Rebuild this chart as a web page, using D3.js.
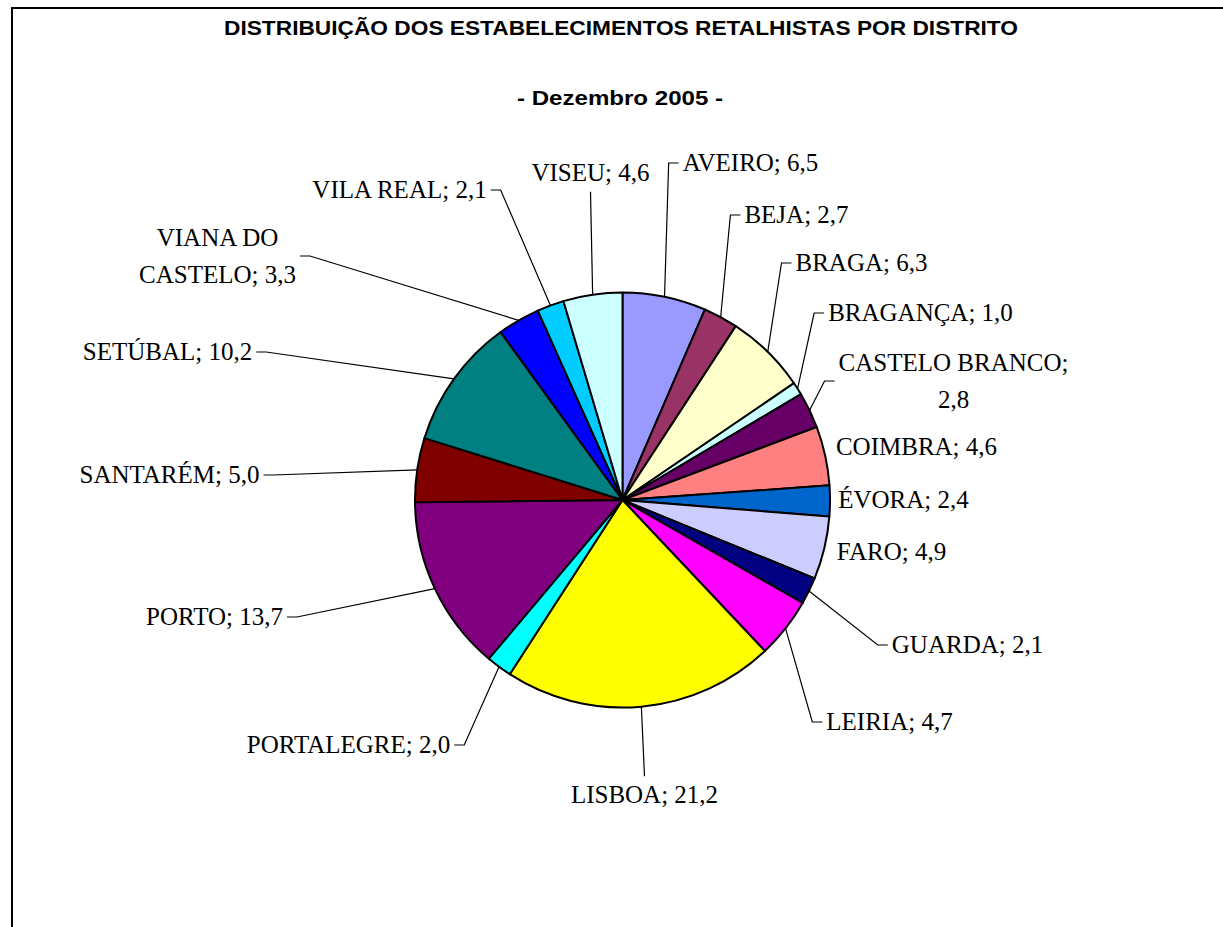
<!DOCTYPE html>
<html>
<head>
<meta charset="utf-8">
<script src="https://cdn.jsdelivr.net/npm/d3@7"></script>
<style>
  html, body { margin: 0; padding: 0; background: #fff; }
  svg { display: block; }
  .title { font-family: "Liberation Sans", Arial, sans-serif; font-weight: bold; }
  .lbl { font-family: "Liberation Serif", "Times New Roman", serif; font-size: 25px; fill: #000; }
</style>
</head>
<body>
<svg width="1223" height="927"></svg>
<script>
// data (percent of shops per district, Dec 2005)
var districts = ["AVEIRO", "BEJA", "BRAGA", "BRAGANÇA", "CASTELO BRANCO", "COIMBRA", "ÉVORA", "FARO", "GUARDA",
  "LEIRIA", "LISBOA", "PORTALEGRE", "PORTO", "SANTARÉM", "SETÚBAL", "VIANA DO CASTELO", "VILA REAL", "VISEU"];
var shares = [6.5, 2.7, 6.3, 1.0, 2.8, 4.6, 2.4, 4.9, 2.1, 4.7, 21.2, 2.0, 13.7, 5.0, 10.2, 3.3, 2.1, 4.6];
var sliceColors = ["#9999FF", "#993366", "#FFFFCC", "#CCFFFF", "#660066", "#FF8080", "#0066CC", "#CCCCFF", "#000080",
  "#FF00FF", "#FFFF00", "#00FFFF", "#800080", "#800000", "#008080", "#0000FF", "#00CCFF", "#CCFFFF"];

var titleText = "DISTRIBUIÇÃO DOS ESTABELECIMENTOS RETALHISTAS POR DISTRITO";
var subtitleText = "- Dezembro 2005 -";

// label placement (labels were dragged by hand in the original), offsets from pie centre
var labelOffsets = [[128, -337], [174, -285], [239, -237], [298, -187], [331, -119], [294, -53], [281, 0], [269, 52],
  [345, 145], [267, 222], [22, 295], [-274, 245], [-408, 117], [-453, -25], [-455, -148], [-405, -244], [-223, -310], [-32, -327]];
// words on first line for wrapped labels
var labelWrap = [0, 0, 0, 0, 2, 0, 0, 0, 0, 0, 0, 0, 0, 0, 0, 2, 0, 0];

var svg = d3.select("svg"),
  cx = 622.5, cy = 500, radius = 207.5,
  lineH = 37.5;

// chart frame (runs off the right and bottom)
svg.append("path")
  .attr("d", "M12,940V8H1240")
  .attr("fill", "none")
  .attr("stroke", "#000")
  .attr("stroke-width", 2);

svg.append("text").attr("class", "title")
  .attr("x", 621).attr("y", 35)
  .attr("text-anchor", "middle")
  .attr("font-size", 21)
  .attr("textLength", 794).attr("lengthAdjust", "spacingAndGlyphs")
  .text(titleText);

svg.append("text").attr("class", "title")
  .attr("x", 620).attr("y", 105)
  .attr("text-anchor", "middle")
  .attr("font-size", 21)
  .attr("textLength", 206).attr("lengthAdjust", "spacingAndGlyphs")
  .text(subtitleText);

var color = d3.scaleOrdinal().domain(districts).range(sliceColors);

var pie = d3.pie().sort(null).value(function(d) { return d; });
var arcs = pie(shares);

var arc = d3.arc().innerRadius(0).outerRadius(radius);
var edge = d3.arc().innerRadius(radius).outerRadius(radius);

var g = svg.append("g").attr("transform", "translate(" + cx + "," + cy + ")");

g.selectAll("path.slice")
  .data(arcs)
  .enter().append("path")
  .attr("class", "slice")
  .attr("d", arc)
  .attr("fill", function(d, i) { return color(districts[i]); })
  .attr("stroke", "#000")
  .attr("stroke-width", 2)
  .attr("stroke-linejoin", "round");

var fmt = function(v) { return d3.format(".1f")(v).replace(".", ","); };

function labelLines(i) {
  var words = (districts[i] + "; " + fmt(shares[i])).split(" ");
  if (!labelWrap[i]) return [words.join(" ")];
  return [words.slice(0, labelWrap[i]).join(" "), words.slice(labelWrap[i]).join(" ")];
}

var labels = g.selectAll("g.label")
  .data(arcs)
  .enter().append("g")
  .attr("class", "label");

labels.each(function(d, i) {
  var sel = d3.select(this),
    lines = labelLines(i),
    lx = labelOffsets[i][0], ly = labelOffsets[i][1],
    top = ly - lines.length * lineH / 2;

  var txt = sel.append("text").attr("class", "lbl").attr("text-anchor", "middle");
  lines.forEach(function(s, k) {
    txt.append("tspan")
      .attr("x", lx)
      .attr("y", top + lineH * (k + 0.5))
      .attr("dy", "0.33em")
      .text(s);
  });

  // leader line from the label box to the slice edge
  var bb = txt.node().getBBox();
  var box = {x0: bb.x - 4, x1: bb.x + bb.width + 4, y0: top, y1: top + lines.length * lineH};
  var p = edge.centroid(d);
  var dx = p[0] < box.x0 ? box.x0 - p[0] : (p[0] > box.x1 ? p[0] - box.x1 : 0);
  var dy = p[1] < box.y0 ? box.y0 - p[1] : (p[1] > box.y1 ? p[1] - box.y1 : 0);
  if (Math.sqrt(dx * dx + dy * dy) < 20) return;

  var pts;
  if (p[0] >= box.x0 && p[0] <= box.x1) {
    pts = [[lx, p[1] > ly ? box.y1 : box.y0], p];
  } else if (p[0] < box.x0) {
    pts = [[box.x0, ly], [box.x0 - 10, ly], p];
  } else {
    pts = [[box.x1, ly], [box.x1 + 10, ly], p];
  }
  sel.insert("path", "text")
    .attr("d", d3.line()(pts))
    .attr("fill", "none")
    .attr("stroke", "#000")
    .attr("stroke-width", 1.2);
});
</script>
</body>
</html>
